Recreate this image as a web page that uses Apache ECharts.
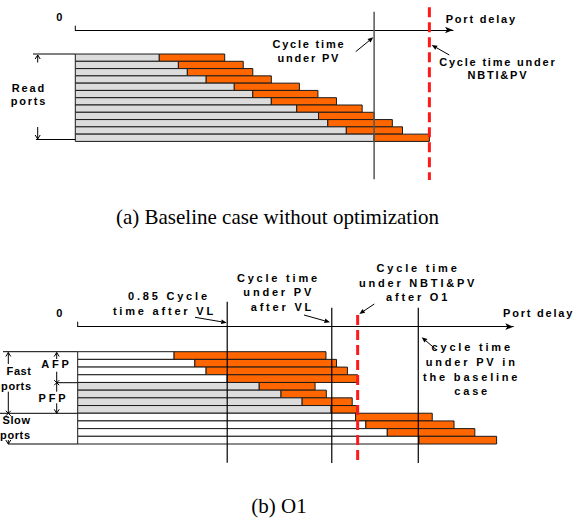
<!DOCTYPE html>
<html><head><meta charset="utf-8">
<script src="https://cdn.jsdelivr.net/npm/echarts@6/dist/echarts.min.js"></script>
<style>html,body{margin:0;padding:0;background:#fff}#main{width:582px;height:518px}</style>
</head><body><div id="main"></div>
<script>
// ---------------- data (delay units: baseline cycle time under PV = 100) ----------------
var ports = ['P1','P2','P3','P4','P5','P6','P7','P8','P9','P10','P11','P12'];
// (a) baseline: intrinsic delay (end of grey part) and delay under NBTI&PV (end of orange part)
var baseStart = [28.1, 34.5, 37.5, 43.8, 53.2, 59.4, 65.6, 74.1, 81.4, 84.5, 90.7, 100];
var baseEnd   = [50.0, 56.2, 59.4, 65.6, 75.0, 81.2, 87.4, 96.0, 100, 106.1, 109.5, 118.5];
var baseRefs  = [100, 118.5];           // cycle time under PV, under NBTI&PV
// (b) O1
var o1Start = [28.3, 34.4, 37.7, 43.9, 53.3, 59.7, 65.9, 74.4, 81.6, 84.6, 90.9, 100.2];
var o1End   = [72.9, 76.0, 79.2, 82.2, 69.7, 73.0, 80.6, 82.0, 104.1, 110.5, 116.6, 123.0];
var o1Group = ['AFP','AFP','AFP','AFP','PFP','PFP','PFP','PFP','Slow','Slow','Slow','Slow'];
var o1Refs  = [43.9, 74.6, 82.2, 100]; // 0.85 cycle after VL, PV after VL, NBTI&PV after O1, baseline PV

// ---------------- layout ----------------
var ORANGE = '#ff6600', GREY = '#dcdcdc';
var baseSpans = [[-5.81, 17.2], [-6.41, 17.3]];
var o1Spans   = [[-6.5, 14.43], [-5.72, 14.47], [-4.77, 14.47], [-5.72, 14.47]];
var baseLineStyles = [
  {stroke:'#555', lineWidth:1.5},
  {stroke:'#ff1a1a', lineWidth:3, lineDash:[10,5]}
];
var o1LineStyles = [
  {stroke:'#000', lineWidth:1.2},
  {stroke:'#000', lineWidth:1.2},
  {stroke:'#ff1a1a', lineWidth:3, lineDash:[10,5]},
  {stroke:'#000', lineWidth:1.2}
];

function renderRows(fillFor) {
  return function (params, api) {
    var i = api.value(0);
    var a = api.coord([0, i]);
    var b = api.coord([api.value(1), i + 1]);
    var c = api.coord([api.value(2), i]);
    var h = b[1] - a[1];
    return {type:'group', children:[
      {type:'rect', shape:{x:a[0], y:a[1], width:b[0]-a[0], height:h},
       style:{fill:fillFor(i), stroke:'#1a1a1a', lineWidth:1}},
      {type:'rect', shape:{x:b[0], y:a[1], width:c[0]-b[0], height:h},
       style:{fill:ORANGE, stroke:'#1a1a1a', lineWidth:1}}
    ]};
  };
}
function renderRef(spans, styles) {
  return function (params, api) {
    var k = params.dataIndex;
    var p = api.coord([api.value(0), spans[k][0]]);
    var q = api.coord([api.value(0), spans[k][1]]);
    return {type:'line', shape:{x1:p[0], y1:p[1], x2:q[0], y2:q[1]}, style:styles[k]};
  };
}

// ---------------- annotations ----------------
var G = [];
var SPACING = [];   // letter spacing to apply per text after render
var SP_TOP = 1.8, SP_BOT = 2.8;
function T(s, x, y, align, sp) {
  align = align || 'center';
  var dx = align === 'center' ? sp/2 : (align === 'right' ? sp : 0);
  SPACING.push({text:s, y:y, sp:sp});
  G.push({type:'text', x:x+dx, y:y, silent:true, z:50, style:{text:s,
    font:'bold 11px "Liberation Sans", Arial, sans-serif', fill:'#000',
    align:align, textAlign:align, verticalAlign:'middle', textVerticalAlign:'middle'}});
}
function CAP(s, x, y) {
  G.push({type:'text', x:x, y:y, silent:true, z:50, style:{text:s,
    font:'21px "Liberation Serif", "Times New Roman", serif', fill:'#000',
    align:'center', textAlign:'center', verticalAlign:'middle', textVerticalAlign:'middle'}});
}
function L(x1,y1,x2,y2,w) {
  G.push({type:'line', silent:true, z:40, shape:{x1:x1,y1:y1,x2:x2,y2:y2}, style:{stroke:'#000', lineWidth:w||1}});
}
function HEAD(x, y, dir) { // open arrow head for brackets
  var d = dir === 'up' ? 4 : -4;
  G.push({type:'polyline', silent:true, z:40, shape:{points:[[x-2.5,y+d],[x,y],[x+2.5,y+d]]}, style:{stroke:'#000', lineWidth:1, fill:null}});
}
function X(x, y) {
  L(x-2.5,y-2.5,x+2.5,y+2.5); L(x-2.5,y+2.5,x+2.5,y-2.5);
}
function ARROW(x1,y1,x2,y2) {
  var dx=x2-x1, dy=y2-y1, len=Math.sqrt(dx*dx+dy*dy), ux=dx/len, uy=dy/len, h=5.5, w=2.3;
  var bx=x2-ux*h, by=y2-uy*h;
  L(x1,y1,bx,by);
  G.push({type:'polygon', silent:true, z:41, shape:{points:[[x2,y2],[bx-uy*w,by+ux*w],[bx+uy*w,by-ux*w]]}, style:{fill:'#000'}});
}

// (a)
T('0', 59.3, 16.7, 'center', SP_TOP);
T('Port delay', 445.7, 19.3, 'left', SP_TOP);
T('Cycle time', 308, 44.3, 'center', SP_TOP);
T('under PV', 308, 58.3, 'center', SP_TOP);
T('Cycle time under', 497, 61.7, 'center', SP_TOP);
T('NBTI&PV', 497, 75, 'center', SP_TOP);
T('Read', 28, 88, 'center', SP_TOP);
T('ports', 28, 101, 'center', SP_TOP);
ARROW(355.7, 51.7, 373.3, 37.3);
ARROW(449.3, 55, 431.7, 45);
L(75.3, 25.7, 75.3, 30);
L(33, 54, 75.3, 54); L(36, 139.5, 75.3, 139.5);
L(37.7, 55, 37.7, 62.5); HEAD(37.7, 55, 'up');
L(37.7, 127, 37.7, 139); HEAD(37.7, 139, 'down');
CAP('(a) Baseline case without optimization', 277.5, 217);

// (b)
T('0', 59.3, 312.7, 'center', SP_BOT);
T('Port delay', 503, 312.7, 'left', 1.8);
T('0.85 Cycle', 167.5, 295.7, 'center', SP_BOT);
T('time after VL', 163, 310.7, 'center', SP_BOT);
T('Cycle time', 277, 277.7, 'center', SP_BOT);
T('under PV', 277.3, 292.3, 'center', SP_BOT);
T('after VL', 281, 306.7, 'center', SP_BOT);
T('Cycle time', 416.7, 267.7, 'center', SP_BOT);
T('under NBTI&PV', 416.7, 282.7, 'center', SP_BOT);
T('after O1', 416.7, 296.7, 'center', SP_BOT);
T('cycle time', 470.8, 347.3, 'center', SP_BOT);
T('under PV in', 470.3, 362.3, 'center', SP_BOT);
T('the baseline', 470.3, 376.7, 'center', SP_BOT);
T('case', 470.8, 391, 'center', SP_BOT);
T('AFP', 55, 364.3, 'center', SP_BOT);
T('PFP', 52, 397.7, 'center', SP_BOT);
T('Fast', 31, 371, 'right', 0.6);
T('ports', 31, 386, 'right', 0.6);
T('Slow', 30, 420, 'right', 0.6);
T('ports', 30, 435, 'right', 0.6);
ARROW(195, 317.3, 226.7, 322.7);
ARROW(304, 315, 330, 322.3);
ARROW(374.3, 304, 359.3, 314);
ARROW(436.7, 350, 421.7, 337.3);
L(77.7, 321.7, 77.7, 326.7);
L(3, 351.7, 77.7, 351.7);
L(8.3, 352.5, 8.3, 364); HEAD(8.3, 352.5, 'up');
L(8.3, 391.7, 8.3, 413.3); X(8.3, 413.3);
L(0, 413.3, 77.7, 413.3);
L(8.3, 440, 8.3, 444); HEAD(8.3, 444, 'down');
L(8, 444, 77.7, 444);
L(56.7, 352.5, 56.7, 359); HEAD(56.7, 352.5, 'up');
L(56.7, 371.7, 56.7, 391.7); X(56.7, 382.7);
L(56.7, 382.7, 77.7, 382.7);
L(56.7, 403.3, 56.7, 413.3); HEAD(56.7, 413.3, 'down');
CAP('(b) O1', 279, 505.5);

// ---------------- chart ----------------
function xAx(gi, max) {
  return {gridIndex:gi, type:'value', position:'top', min:0, max:max,
    axisLine:{show:true, onZero:false, symbol:['none','arrow'], symbolSize:[5,8], lineStyle:{color:'#000', width:1}},
    axisTick:{show:false}, axisLabel:{show:false}, splitLine:{show:false}};
}
function yAx(gi, min, max) {
  return {gridIndex:gi, type:'value', inverse:true, min:min, max:max, show:false,
    axisLine:{show:false}, axisTick:{show:false}, axisLabel:{show:false}, splitLine:{show:false}};
}
var chart = echarts.init(document.getElementById('main'), null, {renderer:'svg'});
chart.setOption({
  animation:false,
  backgroundColor:'#fff',
  grid:[{left:75.3, top:30, width:377.7, height:150}, {left:77.7, top:326.7, width:435.6, height:138.3}],
  xAxis:[xAx(0, 126.4), xAx(1, 127.9)],
  yAxis:[yAx(0, -3.3, 17.3), yAx(1, -3.25, 14.73)],
  series:[
    {type:'custom', name:'Baseline ports', xAxisIndex:0, yAxisIndex:0, clip:false, silent:true, z:2,
     renderItem: renderRows(function(){ return GREY; }),
     encode:{x:[1,2], y:0},
     data: ports.map(function(p,i){ return [i, baseStart[i], baseEnd[i]]; })},
    {type:'custom', name:'O1 ports', xAxisIndex:1, yAxisIndex:1, clip:false, silent:true, z:2,
     renderItem: renderRows(function(i){ return o1Group[i] === 'PFP' ? GREY : '#ffffff'; }),
     encode:{x:[1,2], y:0},
     data: ports.map(function(p,i){ return [i, o1Start[i], o1End[i]]; })},
    {type:'custom', name:'Baseline cycle', xAxisIndex:0, yAxisIndex:0, clip:false, silent:true, z:5,
     renderItem: renderRef(baseSpans, baseLineStyles), encode:{x:0},
     data: baseRefs.map(function(v){ return [v]; })},
    {type:'custom', name:'O1 cycle', xAxisIndex:1, yAxisIndex:1, clip:false, silent:true, z:5,
     renderItem: renderRef(o1Spans, o1LineStyles), encode:{x:0},
     data: o1Refs.map(function(v){ return [v]; })}
  ],
  graphic:{elements:G}
});

function spaceLetters(){
  var texts = document.querySelectorAll('#main svg text');
  var host = document.getElementById('main').getBoundingClientRect();
  Array.prototype.forEach.call(texts, function(t){
    var s = t.textContent || '';
    if (s.charAt(0) === '(') return;
    var r = t.getBoundingClientRect();
    var cy = r.top + r.height / 2 - host.top;
    var best = null, bd = 1e9;
    SPACING.forEach(function(e){
      if (e.text !== s) return;
      var d = Math.abs(e.y - cy);
      if (d < bd) { bd = d; best = e; }
    });
    if (best) t.style.letterSpacing = best.sp + 'px';
  });
}
spaceLetters();
chart.on('finished', spaceLetters);
setTimeout(spaceLetters, 0);
</script>
</body></html>
